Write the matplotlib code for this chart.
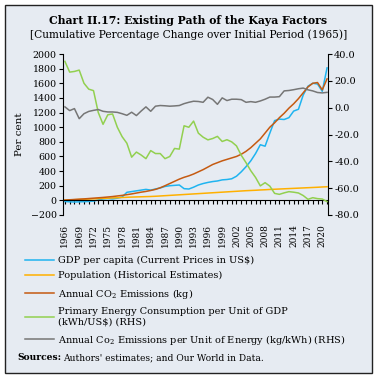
import matplotlib
matplotlib.use('Agg')
import matplotlib.pyplot as plt
from matplotlib.patches import Rectangle
from matplotlib.ticker import FormatStrFormatter, MultipleLocator

plt.rcParams['font.family'] = 'DejaVu Serif'
plt.rcParams['mathtext.fontset'] = 'dejavuserif'

years = list(range(1966, 2022))

# left axis series (per cent)
gdp_pc = [-15, -20, -22, -20, -18, -15, -10, 5, 20, 25,
          20, 30, 45, 110, 120, 130, 140, 150, 140, 155,
          170, 190, 200, 205, 210, 160, 155, 180, 210, 230,
          245, 257, 265, 280, 285, 295, 330, 390, 460, 540,
          640, 760, 740, 920, 1090, 1110, 1105, 1130, 1220, 1245,
          1440, 1560, 1600, 1590, 1490, 1810]
population = [3, 6, 9, 12, 15, 18, 21, 24, 27, 30,
              33, 36, 39, 42, 45, 47, 49, 51, 53, 56,
              60, 64, 68, 72, 76, 80, 84, 88, 92, 96,
              100, 104, 108, 112, 116, 120, 124, 128, 132, 135,
              138, 142, 145, 149, 152, 155, 158, 161, 164, 167,
              170, 173, 176, 179, 183, 186]
co2 = [3, 8, 12, 16, 20, 25, 30, 35, 40, 46,
       52, 60, 68, 78, 88, 100, 112, 122, 135, 150,
       172, 200, 230, 260, 290, 315, 335, 360, 390, 420,
       455, 490, 515, 540, 560, 580, 600, 630, 670, 720,
       780, 840, 920, 1000, 1060, 1130, 1190, 1260, 1320, 1390,
       1470, 1550, 1600, 1610, 1510, 1660]

# right axis series (RHS)
energy_gdp = [34.5, 26.5, 27.0, 28.0, 18.2, 13.8, 12.7, -3.6, -12.4, -5.3,
              -4.7, -14.6, -21.6, -26.5, -36.9, -33.1, -35.3, -38.0, -32.0, -34.2,
              -34.2, -38.0, -36.4, -30.4, -30.9, -13.5, -14.6, -10.0, -19.0, -22.0,
              -24.0, -23.0, -21.4, -25.2, -23.9, -25.5, -28.5, -35.5, -41.0, -47.0,
              -52.0, -58.3, -55.9, -58.5, -63.9, -64.6, -63.5, -62.6, -63.0, -63.6,
              -65.5, -68.3, -67.1, -67.8, -68.1, -70.0]
co2_energy = [0.6, -2.2, -0.7, -8.2, -4.5, -2.8, -2.0, -1.4, -2.7, -3.2,
              -3.2, -3.5, -4.5, -5.7, -3.4, -5.9, -2.5, 0.6, -2.7, 1.1,
              1.6, 1.4, 1.1, 1.3, 1.6, 3.0, 4.0, 4.8, 4.6, 4.0,
              7.8, 6.1, 2.5, 7.3, 5.3, 6.3, 6.3, 6.0, 4.0, 4.5,
              4.0, 5.0, 6.3, 7.9, 7.9, 8.2, 12.5, 12.8, 13.4, 14.1,
              14.6, 13.3, 12.5, 11.3, 11.0, 11.4]

labels = ['GDP per capita (Current Prices in US$)',
          'Population (Historical Estimates)',
          'Annual CO$_2$ Emissions (kg)',
          'Primary Energy Consumption per Unit of GDP\n(kWh/US$) (RHS)',
          'Annual Co$_2$ Emissions per Unit of Energy (kg/kWh) (RHS)']
colors = ['#1fb4f0', '#ffb000', '#c55a11', '#92d050', '#767676']

W, H = 377, 377
fig = plt.figure(figsize=(W / 100, H / 100), dpi=100)
fig.patch.set_facecolor('white')
fig.add_artist(Rectangle((5 / W, 4 / H), 367 / W, 368 / H, transform=fig.transFigure,
                         facecolor='#e6ebf2', edgecolor='#222222', lw=1.0, zorder=-10))

fig.text(0.5, 1 - 20 / H, 'Chart II.17: Existing Path of the Kaya Factors',
         ha='center', va='center', fontsize=7.8, fontweight='bold')
fig.text(0.5, 1 - 35 / H, '[Cumulative Percentage Change over Initial Period (1965)]',
         ha='center', va='center', fontsize=7.7)

ax = fig.add_axes([63 / W, 1 - 215 / H, 265 / W, 161 / H])
ax.set_facecolor('none')
ax2 = ax.twinx()

lines = []
for vals, c in zip([gdp_pc, population, co2], colors[:3]):
    lines += ax.plot(years, vals, color=c, lw=1.1)
for vals, c in zip([energy_gdp, co2_energy], colors[3:]):
    lines += ax2.plot(years, vals, color=c, lw=1.1)

ax.set_xlim(1965.6, 2021.2)
ax.set_ylim(-200, 2000)
ax2.set_ylim(-80, 40)
ax.set_yticks(range(-200, 2001, 200))
ax2.set_yticks(range(-80, 41, 20))
ax2.yaxis.set_major_formatter(FormatStrFormatter('%.1f'))

ax.set_xticks(range(1966, 2021, 3))
ax.xaxis.set_minor_locator(MultipleLocator(1))
ax.tick_params(axis='x', which='both', length=3, width=0.8, direction='out')
ax.tick_params(axis='x', which='major', labelrotation=90, labelsize=6.5, pad=14)
ax.tick_params(axis='y', length=3, width=0.8, labelsize=6.8, pad=1.5)
ax2.tick_params(axis='y', length=3, width=0.8, labelsize=7, pad=1.5)

ax.spines['bottom'].set_position(('data', 0))
for a in (ax, ax2):
    a.spines['top'].set_visible(False)
ax.spines['right'].set_visible(False)
ax2.spines['left'].set_visible(False)
ax2.spines['bottom'].set_visible(False)
for a in (ax, ax2):
    for s in a.spines.values():
        s.set_linewidth(0.8)

ax.set_ylabel('Per cent', fontsize=7.5, labelpad=5)

fig.legend(lines, labels, loc='upper left', bbox_to_anchor=(25 / W, 1 - 256 / H),
           frameon=False, fontsize=7.0, handlelength=3.0, handletextpad=0.35,
           labelspacing=0.64, borderpad=0, borderaxespad=0)

t = fig.text(17 / W, 1 - 358 / H, 'Sources:', fontsize=6.6, fontweight='bold', va='center')
fig.canvas.draw()
bb = t.get_window_extent()
fig.text(bb.x1 / W + 2 / W, 1 - 358 / H, "Authors' estimates; and Our World in Data.",
         fontsize=6.6, va='center')

fig.savefig('out.png', dpi=100)
